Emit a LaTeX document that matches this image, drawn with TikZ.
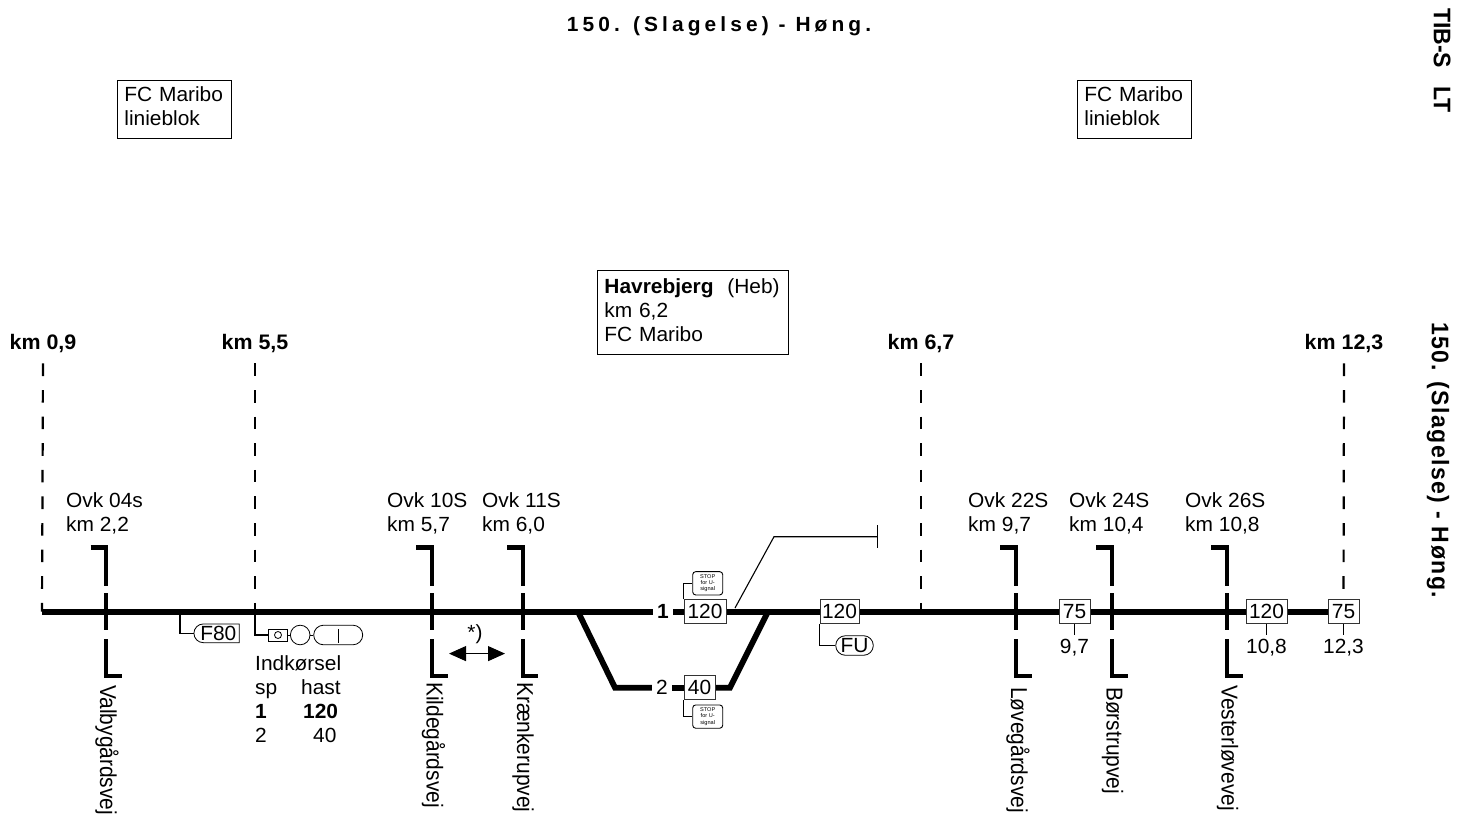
\documentclass[tikz,border=0pt]{standalone}
\usepackage{fontspec}
\setmainfont[FakeStretch=1.02]{Liberation Sans}
\newfontfamily\roadfont[FakeStretch=0.91]{Liberation Sans}
\newfontfamily\sidefont[FakeStretch=0.96]{Liberation Sans}
\usetikzlibrary{%
	calc,%
	arrows.meta,%
	positioning,%
	shapes.misc,%
	backgrounds,%
}
\tikzset{
	>=Triangle,%
	nodes={align=center},%
	trackline/.style={%
			line width=5.6pt},%
	branchline/.style={%
			line width=5.8pt,%
			line join=miter},%
	kmline/.style={%
			line width=2.2pt,%
			dash pattern=on 12.6pt off 14pt},%
	crossline/.style={%
			line width=4.3pt,%
			dash pattern=on 53.9pt off 7.3pt on 37pt off 9pt on 60pt off 1pt},%
	signline/.style={%
			line width=1.2pt},%
	kmlabel/.style={%
			font={\fontsize{21}{24}\selectfont\bfseries},%
			inner sep=0},%
	ovklabel/.style={%
			anchor=north west,%
			align=left,%
			inner sep=0},%
	roadname/.style={%
			font={\fontsize{23}{24}\selectfont\roadfont},%
			rotate=-90,%
			anchor=base west,%
			inner sep=0},%
	infobox/.style={%
			draw,%
			rectangle,%
			line width=.8pt,%
			anchor=north west,%
			inner xsep=7pt,%
			inner ysep=0,%
			align=left},%
	speedbox/.style={%
			draw=black!80,%
			rectangle,%
			line width=.9pt,%
			fill=white,%
			inner sep=0,%
			minimum height=23.6pt},%
	stopbox/.style={%
			draw,%
			rectangle,%
			rounded corners=3pt,%
			line width=.9pt,%
			fill=white,%
			inner sep=0,%
			minimum width=30pt,%
			minimum height=23.3pt,%
			font={\fontsize{5.5}{6.2}\selectfont}},%
	pillnode/.style={%
			draw,%
			rounded rectangle,%
			line width=.8pt,%
			fill=white,%
			inner sep=0,%
			minimum height=19.6pt},%
	kmvalue/.style={%
			inner xsep=0,%
			inner ysep=4pt},%
	tracknumber/.style={%
			inner xsep=4pt,%
			inner ysep=0},%
}

\begin{document}
\begin{tikzpicture}[x=1pt, y=-1pt, nodes={font={\fontsize{20.5}{24}\selectfont}}]%
	\useasboundingbox (0,0) rectangle (1460,816);

	\node[font={\fontsize{20.5}{24}\selectfont\bfseries\addfontfeature{LetterSpace=20}}, inner sep=0] (title) at (719,26) {150. (Slagelse) - Høng.};
	\node[font={\fontsize{24}{24}\selectfont\sidefont\bfseries}, rotate=-90, anchor=west, inner sep=0] (sheet) at (1442,8) {TIB-S\hspace{18pt}LT};
	\node[font={\fontsize{24}{24}\selectfont\sidefont\bfseries\addfontfeature{LetterSpace=6}}, rotate=-90, anchor=west, inner sep=0] (sidetitle) at (1438,322) {150. (Slagelse) - Høng.};

	\node[infobox, text width=100pt, minimum height=58pt] (blockw) at (117,80) {FC Maribo\\linieblok\\[-18pt]\mbox{}};
	\node[infobox, text width=100pt, minimum height=58pt] (blocke) at (1077,80) {FC Maribo\\linieblok\\[-18pt]\mbox{}};
	\node[infobox, text width=177pt, minimum height=84pt] (station) at (597,270) {\textbf{Havrebjerg}\ \ (Heb)\\km 6,2\\FC Maribo\\[-20pt]\mbox{}};

	\node[kmlabel] (kma) at (43,344) {km 0,9};
	\node[kmlabel] (kmb) at (255,344) {km 5,5};
	\node[kmlabel] (kmc) at (921,344) {km 6,7};
	\node[kmlabel] (kmd) at (1344,344) {km 12,3};

	\coordinate (ta) at (42,611.7);
	\coordinate (tb) at (255,611.7);
	\coordinate (tc) at (921,611.7);
	\coordinate (tf) at (180,611.7);
	\coordinate (swa) at (578,611.7);
	\coordinate (swb) at (615,687.7);
	\coordinate (swc) at (730,687.7);
	\coordinate (swd) at (768,611.7);

	\node[ovklabel] (ovka) at (66,492) {Ovk 04s\\km 2,2};
	\node[ovklabel] (ovkb) at (387,492) {Ovk 10S\\km 5,7};
	\node[ovklabel] (ovkc) at (482,492) {Ovk 11S\\km 6,0};
	\node[ovklabel] (ovkd) at (968,492) {Ovk 22S\\km 9,7};
	\node[ovklabel] (ovke) at (1069,492) {Ovk 24S\\km 10,4};
	\node[ovklabel] (ovkf) at (1185,492) {Ovk 26S\\km 10,8};

	\node[roadname] (roada) at (100,685) {Valbygårdsvej};
	\node[roadname] (roadb) at (426.7,682) {Kildegårdsvej};
	\node[roadname] (roadc) at (517,682) {Krænkerupvej};
	\node[roadname] (roadd) at (1011,687) {Løvegårdsvej};
	\node[roadname] (roade) at (1106.7,687) {Børstrupvej};
	\node[roadname] (roadf) at (1221.7,685) {Vesterløvevej};

	\coordinate (xa) at (106.2,611.7);
	\coordinate (xb) at (432,611.7);
	\coordinate (xc) at (522.7,611.7);
	\coordinate (xd) at (1016,611.7);
	\coordinate (xe) at (1112,611.7);
	\coordinate (xf) at (1227,611.7);

	\draw[crossline] ($(xa)+(-15.7,-64.2)$) -| ($(xa)+(0,64.3)$) -- ++(15.7,0);
	\draw[crossline] ($(xb)+(-15.7,-64.2)$) -| ($(xb)+(0,64.3)$) -- ++(15.7,0);
	\draw[crossline] ($(xc)+(-15.7,-64.2)$) -| ($(xc)+(0,64.3)$) -- ++(15.7,0);
	\draw[crossline] ($(xd)+(-15.7,-64.2)$) -| ($(xd)+(0,64.3)$) -- ++(15.7,0);
	\draw[crossline] ($(xe)+(-15.7,-64.2)$) -| ($(xe)+(0,64.3)$) -- ++(15.7,0);
	\draw[crossline] ($(xf)+(-15.7,-64.2)$) -| ($(xf)+(0,64.3)$) -- ++(15.7,0);

	\node[tracknumber, font={\fontsize{20.5}{24}\selectfont\bfseries}] (numa) at (663,611.7) {1};
	\node[tracknumber] (numb) at (662,687.7) {2};

	\node[speedbox, minimum width=42pt] (spa) at (705,611.7) {120};
	\node[speedbox, minimum width=31pt] (spb) at (699.5,687.7) {40};
	\node[speedbox, minimum width=39pt] (spc) at (839.5,611.7) {120};
	\node[speedbox, minimum width=31pt] (spd) at (1074.5,611.7) {75};
	\node[speedbox, minimum width=41pt] (spe) at (1266.5,611.7) {120};
	\node[speedbox, minimum width=31pt] (spf) at (1343.5,611.7) {75};

	\node[kmvalue] (vald) [below=11.5pt of spd] {9,7};
	\node[kmvalue] (vale) [below=11.5pt of spe] {10,8};
	\node[kmvalue] (valf) [below=11.5pt of spf] {12,3};

	\node[stopbox] (stopa) at (707.7,583.3) {STOP\\for U-\\signal};
	\node[stopbox] (stopb) at (707.7,716.6) {STOP\\for U-\\signal};

	\node[pillnode, minimum width=37.6pt] (fu) at (854.5,645.5) {FU};
	\node[pillnode, rounded rectangle east arc=none, minimum width=45.3pt, minimum height=18.7pt] (fspeed) at (218.3,633.3) {F80};

	\node[draw, rectangle, line width=.8pt, inner sep=0, minimum width=18.6pt, minimum height=12pt] (signbox) at (278,635) {};
	\node[draw, circle, line width=.8pt, inner sep=0, minimum size=7pt] (signdot) at (signbox.center) {};
	\node[draw, circle, line width=.8pt, inner sep=0, minimum size=19.6pt] (signlamp) at (300.2,635) {};
	\node[pillnode, minimum width=49pt] (signpill) at (338.2,635) {};

	\node[anchor=north west, inner sep=0] (entry) at (255,653) {\begin{tabular}{@{}p{46pt}@{}l@{}}
			\multicolumn{2}{@{}l@{}}{Indkørsel} \\
			sp       & hast                     \\
			\textbf{1} & \hspace*{2pt}\textbf{120} \\
			2        & \hspace*{12pt}40         \\
		\end{tabular}};

	\node[inner sep=0] (note) at (475,634) {*)};
	\coordinate (arrowa) at (449,653.6);
	\coordinate (arrowb) at (505,653.6);
	\draw[{Triangle[length=17pt, width=15pt]}-{Triangle[length=17pt, width=15pt]}, line width=1pt] (arrowa) to (arrowb);

	\coordinate (lima) at (735,608);
	\coordinate (limb) at (774,536.7);
	\coordinate (limc) at (877.6,536.7);
	\draw[-{Bar[width=23pt, length=0pt]}, line width=1.1pt] (lima) to (limb) to (limc);

	\begin{scope}[on background layer]
		\draw[trackline] (ta) to (numa);
		\draw[trackline] (numa) to (spa);
		\draw[trackline] (spa) to (spf);
		\draw[trackline] (numb) to (spb);
		\draw[branchline] (swa) to (swb) to (numb);
		\draw[branchline] (spb) to (swc) to (swd);
	\end{scope}

	\draw[kmline] (kma.south) ++(0,10) to (ta);
	\draw[kmline] (kmb.south) ++(0,10) to (tb);
	\draw[kmline] (kmc.south) ++(0,10) to (tc);
	\draw[kmline] (kmd.south) ++(0,10) to (spf);

	\draw[signline] (spd.south) to (vald);
	\draw[signline] (spe.south) to (vale);
	\draw[signline] (spf.south) to (valf);
	\draw[signline] (spa.north west) |- (stopa);
	\draw[signline] (spb.south west) |- (stopb);
	\draw[signline] (spc.south west) |- (fu);
	\draw[signline] (tf) |- (fspeed);
	\draw[signline] (tb) |- (signbox);
	\draw[line width=.8pt] (signlamp) to (signpill);
	\draw[line width=.8pt] (signbox) to (signlamp);
	\draw[signline] ($(signpill.center)+(0,-6)$) to ($(signpill.center)+(0,8)$);
\end{tikzpicture}
\end{document}
